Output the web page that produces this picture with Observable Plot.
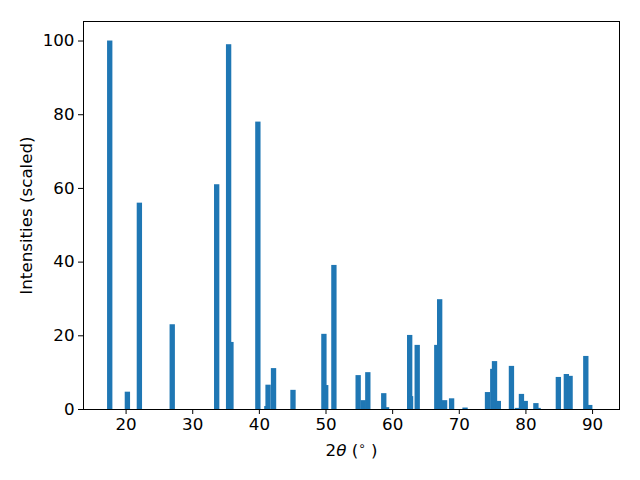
<!DOCTYPE html>
<html><head><meta charset="utf-8">
<script src="https://cdn.jsdelivr.net/npm/d3@7"></script>
<script src="https://cdn.jsdelivr.net/npm/@observablehq/plot@0.6"></script>
<style>body{margin:0;background:#fff}</style>
</head><body><div id="chart"></div>
<script>
const twoTheta = [17.62, 20.27, 22.07, 27.0, 33.67, 35.46, 35.81, 39.85, 41.2, 41.38, 42.2, 45.12,
  49.76, 50.03, 51.26, 54.9, 55.66, 56.35, 58.74, 59.16, 62.63, 62.76, 63.76, 66.7, 67.13, 67.87,
  68.92, 70.94, 74.31, 75.1, 75.36, 75.93, 77.9, 78.8, 79.4, 79.97, 81.57, 81.9, 84.94, 86.14,
  86.7, 89.06, 89.65];
const intensity = [100, 4.7, 56, 23, 61, 99, 18.2, 78, 0.8, 6.6, 11.1, 5.2,
  20.4, 6.5, 39.1, 9.2, 2.4, 10.0, 4.3, 0.5, 20.1, 3.5, 17.4, 17.4, 29.8, 2.4,
  2.9, 0.4, 4.6, 10.9, 13.0, 2.2, 11.7, 0.3, 4.1, 2.2, 1.6, 0.3, 8.7, 9.5,
  9.0, 14.4, 1.1];
const xTicks = [20, 30, 40, 50, 60, 70, 80, 90];
const yTicks = [0, 20, 40, 60, 80, 100];
const xLabel = "2θ (∘)";
const yLabel = "Intensities (scaled)";
const barWidth = 0.8;

const data = twoTheta.map((t, i) => ({t, v: intensity[i]}));
const fs = 16.7;

const plot = Plot.plot({
  width: 640, height: 480,
  marginLeft: 83, marginRight: 21, marginTop: 21, marginBottom: 71,
  style: {fontFamily: "DejaVu Sans", fontSize: fs + "px", color: "black", background: "white"},
  x: {domain: [13.61, 94.04], label: null},
  y: {domain: [0, 105.3], label: null},
  marks: [
    Plot.rectY(data, {x1: d => d.t - barWidth / 2, x2: d => d.t + barWidth / 2, y1: 0, y2: "v", fill: "#1f77b4"}),
    Plot.frame({stroke: "black", strokeWidth: 1}),
    Plot.axisX({ticks: xTicks, tickSize: 5, tickPadding: 4, label: null, tickFormat: d => String(d), fontSize: fs}),
    Plot.axisY({ticks: yTicks, tickSize: 5, tickPadding: 4, label: null, tickFormat: d => String(d), fontSize: fs}),
    Plot.text([xLabel], {frameAnchor: "bottom", dy: 46, fontSize: fs, fill: "black", textAnchor: "middle"}),
    Plot.text([yLabel], {frameAnchor: "left", dx: -57, rotate: -90, fontSize: fs, fill: "black", textAnchor: "middle"})
  ]
});
document.getElementById("chart").appendChild(plot);

d3.select(plot).selectAll("text").each(function() {
  if (this.textContent === xLabel) {
    const t = d3.select(this);
    t.text(null);
    t.append("tspan").text("2");
    t.append("tspan").attr("font-style", "italic").text("θ");
    t.append("tspan").text(" (");
    t.append("tspan").attr("dy", "-6").attr("font-size", "12").text("∘");
    t.append("tspan").attr("dy", "6").text(" )");
  }
});
</script>
</body></html>
